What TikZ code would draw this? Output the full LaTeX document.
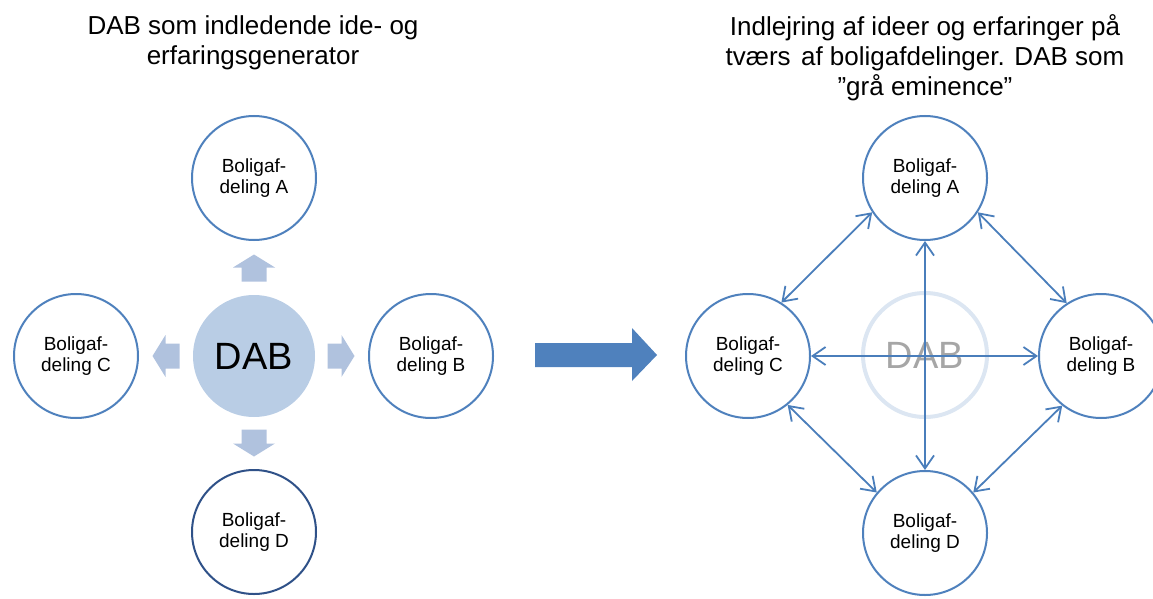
\documentclass[tikz,border=0pt]{standalone}
\usepackage{fontspec}
\setmainfont{Liberation Sans}
\usetikzlibrary{arrows.meta}
\definecolor{ringblue}{HTML}{4F81BD}
\definecolor{darkring}{HTML}{2F5188}
\definecolor{dabfill}{HTML}{B9CDE5}
\definecolor{fatgray}{HTML}{B0C2DE}
\definecolor{bigblue}{HTML}{4F81BD}
\definecolor{linkblue}{HTML}{4A7EBB}
\definecolor{fadering}{HTML}{DCE6F2}
\definecolor{dabgray}{HTML}{A6A6A6}
\tikzset{
  afd/.style={circle, draw=ringblue, line width=2pt, fill=white, minimum size=124pt, inner sep=0pt,
    align=center, font=\fontsize{19}{21}\selectfont},
  titletext/.style={align=center, font=\fontsize{26}{30}\selectfont},
  link/.style={draw=linkblue, line width=1.8pt, {Straight Barb[length=13pt,width=18pt]}-{Straight Barb[length=13pt,width=18pt]}},
  pics/fatarrow/.style={code={
    \fill[fatgray] (-13.5,-12.5) -- (0.5,-12.5) -- (0.5,-21) -- (13.5,0) -- (0.5,21) -- (0.5,12.5) -- (-13.5,12.5) -- cycle;
  }}
}
\begin{document}
\begin{tikzpicture}[x=1pt,y=-1pt]
\useasboundingbox (0,0) rectangle (1153,599);
% titles
\node[titletext] (t1) at (253,43) {DAB som indledende ide- og\\erfaringsgenerator};
\node[titletext] (t2) at (925,58) {Indlejring af ideer og erfaringer på\\tværs\hspace{0.4em}af boligafdelinger. DAB som\\”grå eminence”};
% left diagram
\node[circle, fill=dabfill, minimum size=122pt, inner sep=0pt, font=\fontsize{38}{40}\selectfont] (dabL) at (254,356) {DAB};
\node[afd] (aL) at (254,178) {Boligaf-\\deling A};
\node[afd] (cL) at (76,356) {Boligaf-\\deling C};
\node[afd] (bL) at (431,356) {Boligaf-\\deling B};
\node[afd, draw=darkring] (dL) at (254,532) {Boligaf-\\deling D};
\pic[rotate=90] at (254,268) {fatarrow};
\pic[rotate=180] at (166,356) {fatarrow};
\pic at (341,356) {fatarrow};
\pic[rotate=-90] at (254,443) {fatarrow};
% big arrow
\fill[bigblue] (535,343) -- (632,343) -- (632,328) -- (657,355) -- (632,381) -- (632,367) -- (535,367) -- cycle;
% right diagram
\node[circle, draw=fadering, line width=4pt, minimum size=124pt, inner sep=0pt, text=dabgray, font=\fontsize{38}{40}\selectfont] (dabR) at (925,355) {DAB};
\node[afd] (aR) at (925,178) {Boligaf-\\deling A};
\node[afd] (cR) at (748,356) {Boligaf-\\deling C};
\node[afd] (bR) at (1101,356) {Boligaf-\\deling B};
\node[afd] (dR) at (925,533) {Boligaf-\\deling D};
\draw[link] (aR.south) -- (dR.north);
\draw[link] (cR.east) -- (bR.west);
\draw[link] (aR.213) -- (cR.58);
\draw[link] (aR.327) -- (bR.123);
\draw[link] (cR.309) -- (dR.140);
\draw[link] (bR.232) -- (dR.40);
\end{tikzpicture}
\end{document}
